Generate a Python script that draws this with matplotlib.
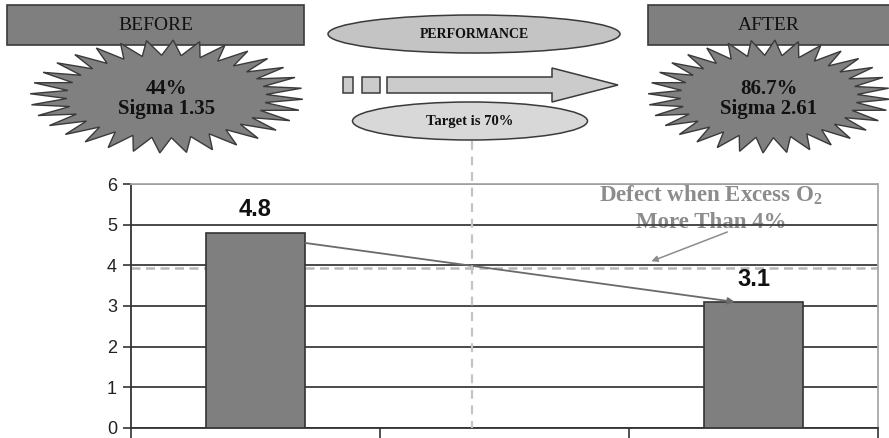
import numpy as np
import matplotlib
matplotlib.use('Agg')
import matplotlib.pyplot as plt
from matplotlib import patches

# excess O2 (%) before and after the improvement; middle slot left empty
slots = ["Before", "", "After"]
excess_o2 = [4.8, None, 3.1]
defect_limit = 3.93
y_ticks = [0, 1, 2, 3, 4, 5, 6]

before_label = "BEFORE"
after_label = "AFTER"
before_stats = "44%\nSigma 1.35"
after_stats = "86.7%\nSigma 2.61"
banner = "PERFORMANCE"
target = "Target is 70%"

plt.rcParams['mathtext.fontset'] = 'custom'
plt.rcParams['mathtext.bf'] = 'Liberation Serif:bold'
plt.rcParams['mathtext.rm'] = 'Liberation Serif'

SERIF = 'Liberation Serif'
SANS = 'Liberation Sans'
W, H = 889, 438

fig = plt.figure(figsize=(W / 100, H / 100), dpi=100)
fig.patch.set_facecolor('white')

# ---- bar chart ----
ax = fig.add_axes([131 / W, 1 - 428 / H, (878 - 131) / W, (428 - 184) / H])
xs = [i for i, v in enumerate(excess_o2) if v is not None]
vals = [v for v in excess_o2 if v is not None]
ax.bar(xs, vals, width=0.4, color='#7f7f7f', edgecolor='#333333', linewidth=1.2, zorder=3)
for x, v in zip(xs, vals):
    ax.text(x, v + 0.28, f"{v:.1f}", ha='center', va='bottom', fontsize=17,
            fontweight='bold', family=SANS, color='#111111', zorder=4)

ax.set_xlim(-0.5, len(slots) - 0.5)
ax.set_ylim(0, 6)
ax.set_yticks(y_ticks)
ax.set_xticks(np.arange(len(slots) + 1) - 0.5)
ax.set_xticklabels([])
ax.tick_params(axis='y', direction='out', length=6, width=1.2, color='#333333',
               labelsize=13, labelcolor='#222222', pad=4)
ax.tick_params(axis='x', direction='out', length=8, width=1.2, color='#333333')
for lab in ax.get_yticklabels():
    lab.set_family(SANS)
ax.yaxis.grid(True, color='#3c3c3c', linewidth=1.3)
ax.set_axisbelow(True)
for side in ('left', 'bottom'):
    ax.spines[side].set_color('#333333')
    ax.spines[side].set_linewidth(1.3)
for side in ('top', 'right'):
    ax.spines[side].set_color('#a8a8a8')
    ax.spines[side].set_linewidth(1.3)

ax.axhline(defect_limit, color='#b8b8b8', linestyle=(0, (3.6, 2.2)), linewidth=1.8, zorder=2)

# trend arrow from the first bar down to the second
ax.annotate('', xy=(xs[1] - 0.075, vals[1]), xytext=(xs[0] + 0.2, 4.55),
            arrowprops=dict(arrowstyle='-|>', color='#6a6a6a', lw=1.3,
                            mutation_scale=10, shrinkA=0, shrinkB=0), zorder=4)

# limit note sits under the grid so the 5 line runs through it
ax.text(1.83, 5.4, "Defect when Excess O$\\mathbf{_2}$\nMore Than 4%", ha='center', va='center',
        fontsize=16.5, fontweight='bold', family=SERIF, color='#8c8c8c',
        linespacing=1.35, zorder=0.4)
ax.annotate('', xy=(1.59, 4.1), xytext=(1.895, 4.82),
            arrowprops=dict(arrowstyle='-|>', color='#8c8c8c', lw=1.1,
                            mutation_scale=9, shrinkA=0, shrinkB=0))

# ---- header graphics in pixel space ----
ov = fig.add_axes([0, 0, 1, 1], zorder=5)
ov.set_xlim(0, W)
ov.set_ylim(H, 0)
ov.axis('off')


def star(cx, cy, a, b, n=32, ratio=0.73):
    t = np.linspace(0, 2 * np.pi, 2 * n, endpoint=False) + np.pi / (2 * n)
    r = np.where(np.arange(2 * n) % 2 == 0, 1.0, ratio)
    return np.column_stack([cx + a * r * np.cos(t), cy + b * r * np.sin(t)])


edge = '#3a3a3a'
for x0, x1, tx, label in [(7, 304, 155.5, before_label), (648, 895, 769, after_label)]:
    ov.add_patch(patches.Rectangle((x0, 5), x1 - x0, 40, facecolor='#7f7f7f',
                                   edgecolor=edge, linewidth=1.2))
    ov.text(tx, 26, label, ha='center', va='center',
            fontsize=14, family=SERIF, color='#111111')

for cx, a, txt in [(166.5, 136.5, before_stats), (769, 121, after_stats)]:
    ov.add_patch(patches.Polygon(star(cx, 96.5, a, 56.5), closed=True,
                                 facecolor='#808080', edgecolor=edge, linewidth=1.0, zorder=3))
    ov.text(cx, 99, txt, ha='center', va='center', fontsize=15, fontweight='bold',
            family=SERIF, color='#111111', linespacing=1.05, zorder=4)

ov.add_patch(patches.Ellipse((474, 34), 292, 38, facecolor='#c4c4c4', edgecolor=edge, linewidth=1.1))
ov.text(474, 34, banner, ha='center', va='center', fontsize=10, fontweight='bold',
        family=SERIF, color='#111111')

ov.add_patch(patches.Rectangle((343, 77), 10, 16, facecolor='#cbcbcb', edgecolor=edge, linewidth=1.1))
ov.add_patch(patches.Rectangle((362, 77), 18, 16, facecolor='#cbcbcb', edgecolor=edge, linewidth=1.1))
ov.add_patch(patches.FancyArrow(387, 85, 231, 0, width=16, head_width=34, head_length=66,
                                length_includes_head=True, facecolor='#cbcbcb',
                                edgecolor=edge, linewidth=1.1))

ov.add_patch(patches.Ellipse((470, 121), 235, 38, facecolor='#d8d8d8', edgecolor=edge, linewidth=1.1))
ov.text(470, 121, target, ha='center', va='center', fontsize=10.5, fontweight='bold',
        family=SERIF, color='#111111')

ov.plot([472, 472], [141, 428], color='#c4c4c4', linestyle=(0, (4, 3)), linewidth=1.6)

fig.savefig('out.png', dpi=100)
